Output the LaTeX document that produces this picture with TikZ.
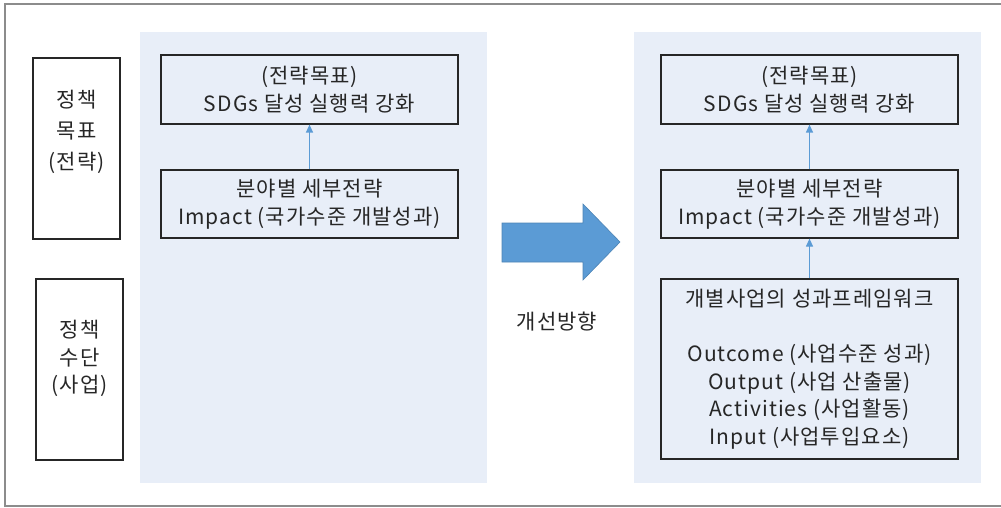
\documentclass[tikz,border=0pt]{standalone}
\usepackage{fontspec}
\setmainfont[LetterSpace=5]{Noto Sans CJK KR}
\usetikzlibrary{arrows.meta}
\definecolor{panelblue}{HTML}{E8EEF8}
\definecolor{arrowblue}{HTML}{5B9BD5}
\definecolor{framegray}{HTML}{8C8C8C}

\begin{document}
\begin{tikzpicture}[x=1pt,y=-1pt,
    txt/.style={text=black!85,align=center,font=\fontsize{21}{27.5}\selectfont},
    box/.style={draw=black!85,line width=1.2pt,inner sep=0pt,txt,minimum width=297pt},
    panel/.style={fill=panelblue,inner sep=0pt,minimum width=347pt,minimum height=451pt},
    link/.style={-{Triangle[length=8pt,width=7pt]},arrowblue,line width=1.2pt}]
            \useasboundingbox (0,0) rectangle (1001,508);
            \draw[framegray,line width=2pt] (1003,4) -- (5,4) -- (5,506) -- (1003,506);
            \node[panel] (nowpanel) at (313.5,257.5) {};
            \node[panel] (newpanel) at (807.5,257.5) {};
            \node[box,minimum width=87pt,minimum height=181pt] (aimbox) at (76.5,148.5) {};
            \node[txt,font=\fontsize{21}{31}\selectfont] (aimtext) at ([yshift=17pt]aimbox.center) {정책\\목표\\(전략)};
            \node[box,minimum width=87pt,minimum height=181pt] (meanbox) at (79.5,369.5) {};
            \node[txt] (meantext) at ([yshift=11pt]meanbox.center) {정책\\수단\\(사업)};
            \node[box,minimum height=69pt] (nowgoal) at (309.5,89.5) {(전략목표)\\SDGs 달성 실행력 강화};
            \node[box,minimum height=68pt] (nowimpact) at (309.5,204) {분야별 세부전략\\Impact (국가수준 개발성과)};
            \node[box,minimum height=69pt] (newgoal) at (809.5,89.5) {(전략목표)\\SDGs 달성 실행력 강화};
            \node[box,minimum height=68pt] (newimpact) at (809.5,204) {분야별 세부전략\\Impact (국가수준 개발성과)};
            \node[box,minimum height=180pt] (newframe) at (809.5,369) {개별사업의 성과프레임워크\\[27.5pt]Outcome (사업수준 성과)\\Output (사업 산출물)\\Activities (사업활동)\\Input (사업투입요소)};
            \draw[link] (nowimpact) -- (nowgoal);
            \draw[link] (newimpact) -- (newgoal);
            \draw[link] (newframe) -- (newimpact);
            \draw[fill=arrowblue,draw=arrowblue!85!black,line width=0.6pt] (502,223) -- (583,223) -- (583,204) -- (620,242) -- (583,280) -- (583,262) -- (502,262) -- cycle;
            \node[txt] (turnlabel) at (557,322) {개선방향};
        \end{tikzpicture}
\end{document}
